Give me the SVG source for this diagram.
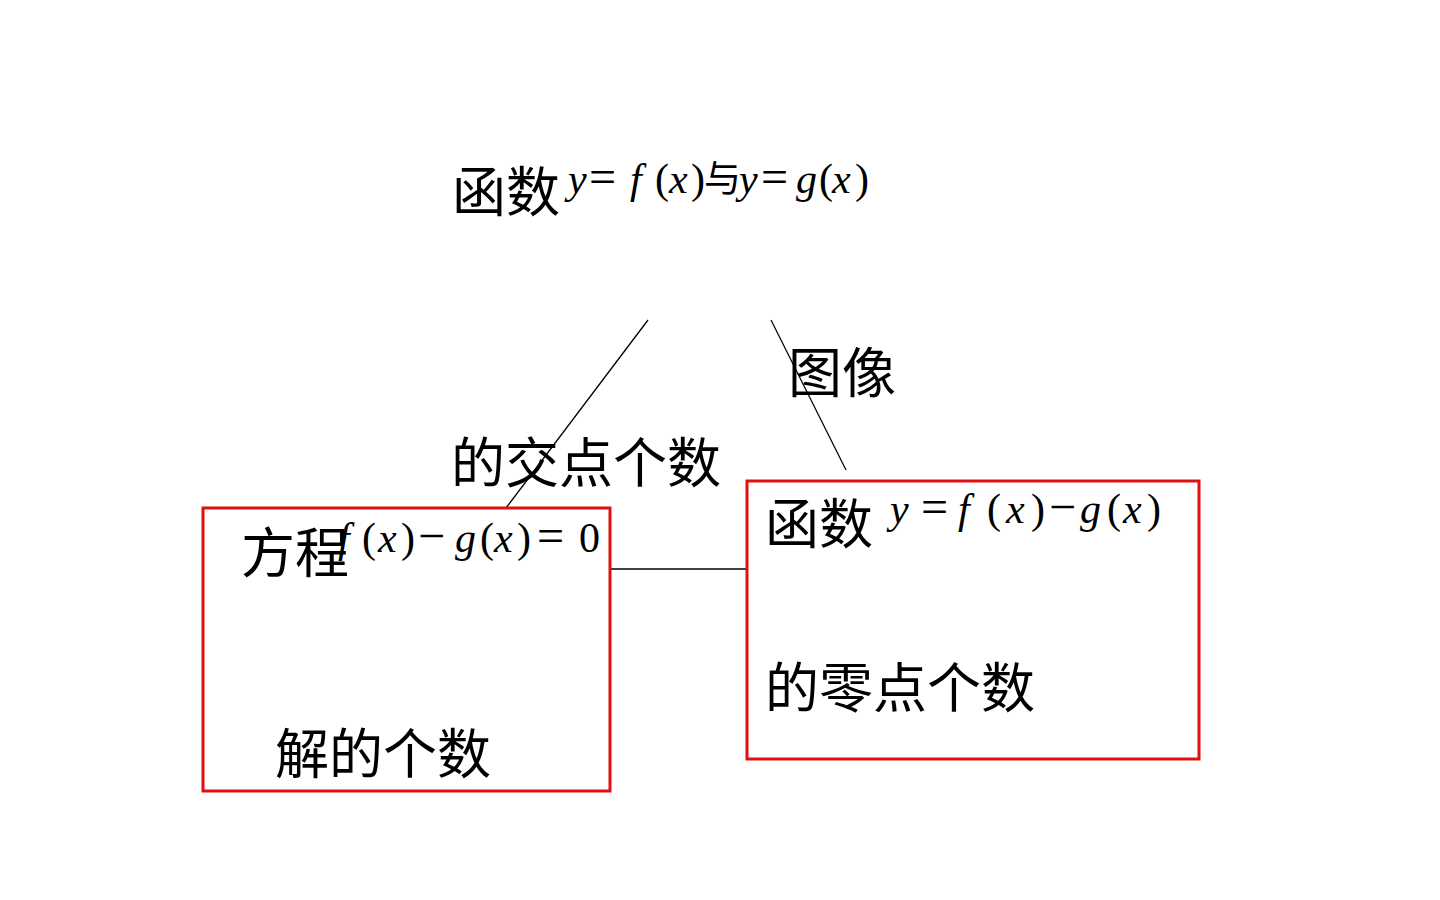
<svg xmlns="http://www.w3.org/2000/svg" width="1440" height="900" viewBox="0 0 1440 900">
<style>
.cjk{font-family:"Noto Sans CJK SC","Noto Sans CJK JP",sans-serif;font-size:54px;fill:#000}
.m{font-family:"Liberation Serif","Times New Roman",serif;font-size:42px;fill:#000}
.i{font-style:italic}
.op{font-size:48px}
.box{fill:none;stroke:#e01010;stroke-width:3}
.ln{stroke:#000;stroke-width:1.3;fill:none}
</style>
<rect width="1440" height="900" fill="#fff"/>
<g id="connectors">
<line class="ln" x1="648" y1="320" x2="506" y2="508"/>
<line class="ln" x1="771" y1="320" x2="846" y2="470"/>
<line class="ln" x1="611" y1="569" x2="747" y2="569"/>
</g>
<g id="top-node">
<text class="cjk" x="452" y="212">函数</text>
<text class="m" y="193"><tspan class="i" x="568">y</tspan><tspan class="op" x="589">=</tspan><tspan class="i" x="630">f</tspan><tspan x="655">(</tspan><tspan class="i" x="669">x</tspan><tspan x="691">)</tspan></text>
<text class="cjk" x="704" y="192" style="font-size:37px">与</text>
<text class="m" y="193"><tspan class="i" x="739">y</tspan><tspan class="op" x="761">=</tspan><tspan class="i" x="796">g</tspan><tspan x="819">(</tspan><tspan class="i" x="832">x</tspan><tspan x="855">)</tspan></text>
</g>
<g id="label-tuxiang">
<text class="cjk" x="788" y="393">图像</text>
</g>
<g id="label-jiaodian">
<text class="cjk" x="451" y="483">的交点个数</text>
</g>
<g id="left-node">
<rect class="box" x="203" y="508" width="407" height="283"/>
<text class="cjk" x="241" y="573">方程</text>
<text class="m" y="552"><tspan class="i" x="338">f</tspan><tspan x="362">(</tspan><tspan class="i" x="378">x</tspan><tspan x="401">)</tspan><tspan class="op" x="418">−</tspan><tspan class="i" x="455">g</tspan><tspan x="480">(</tspan><tspan class="i" x="494">x</tspan><tspan x="517">)</tspan><tspan class="op" x="537">=</tspan><tspan x="579">0</tspan></text>
<text class="cjk" x="275" y="774">解的个数</text>
</g>
<g id="right-node">
<rect class="box" x="747" y="481" width="452" height="278"/>
<text class="cjk" x="765" y="544">函数</text>
<text class="m" y="523"><tspan class="i" x="890">y</tspan><tspan class="op" x="921">=</tspan><tspan class="i" x="958">f</tspan><tspan x="987">(</tspan><tspan class="i" x="1006">x</tspan><tspan x="1031">)</tspan><tspan class="op" x="1049">−</tspan><tspan class="i" x="1080">g</tspan><tspan x="1107">(</tspan><tspan class="i" x="1123">x</tspan><tspan x="1147">)</tspan></text>
<text class="cjk" x="765" y="708">的零点个数</text>
</g>
</svg>
